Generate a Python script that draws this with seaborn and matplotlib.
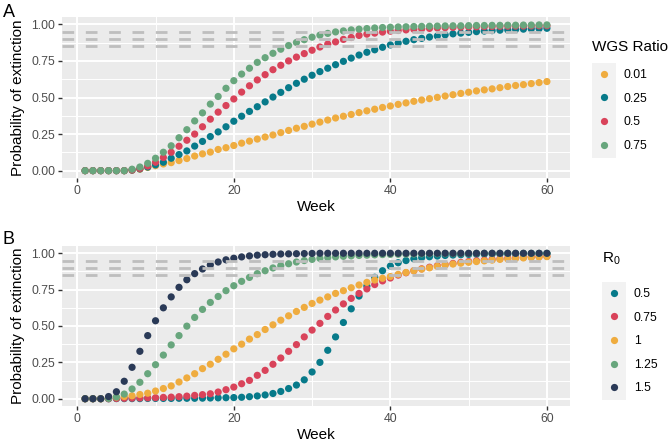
import matplotlib
matplotlib.use('Agg')
import matplotlib.pyplot as plt
import seaborn as sns
import pandas as pd
from matplotlib.patches import Rectangle
from matplotlib.ticker import MultipleLocator

plt.rcParams['font.family'] = ['Liberation Sans', 'DejaVu Sans']
plt.rcParams['mathtext.fontset'] = 'custom'
plt.rcParams['mathtext.rm'] = 'Liberation Sans'

weeks = list(range(1, 61))

# panel A: WGS ratio
wgs_labels = ['0.01', '0.25', '0.5', '0.75']
wgs_colors = ['#EFAC3F', '#077A8A', '#D9435A', '#68A67D']
wgs_001 = [0, 0, 0, 0, 0, 0, 0.003, 0.01, 0.022, 0.034,
           0.046, 0.055, 0.069, 0.083, 0.10, 0.115, 0.127, 0.145, 0.157, 0.172,
           0.188, 0.202, 0.216, 0.23, 0.244, 0.26, 0.275, 0.29, 0.303, 0.318,
           0.332, 0.346, 0.36, 0.372, 0.384, 0.397, 0.409, 0.42, 0.432, 0.442,
           0.453, 0.463, 0.474, 0.483, 0.492, 0.501, 0.51, 0.519, 0.528, 0.536,
           0.545, 0.552, 0.559, 0.567, 0.575, 0.582, 0.588, 0.595, 0.602, 0.609]
wgs_025 = [0, 0, 0, 0, 0, 0, 0.004, 0.012, 0.025, 0.04,
           0.058, 0.085, 0.11, 0.135, 0.168, 0.2, 0.233, 0.265, 0.3, 0.338,
           0.372, 0.405, 0.437, 0.47, 0.503, 0.535, 0.567, 0.597, 0.625, 0.652,
           0.677, 0.70, 0.724, 0.747, 0.769, 0.79, 0.809, 0.826, 0.843, 0.859,
           0.872, 0.884, 0.895, 0.904, 0.913, 0.92, 0.928, 0.935, 0.94, 0.945,
           0.95, 0.954, 0.957, 0.96, 0.962, 0.965, 0.967, 0.969, 0.971, 0.973]
wgs_05 = [0, 0, 0, 0, 0, 0, 0.005, 0.015, 0.032, 0.058,
          0.09, 0.126, 0.167, 0.208, 0.25, 0.3, 0.352, 0.4, 0.445, 0.49,
          0.537, 0.58, 0.62, 0.656, 0.69, 0.72, 0.75, 0.776, 0.80, 0.823,
          0.845, 0.865, 0.88, 0.897, 0.91, 0.924, 0.933, 0.94, 0.947, 0.953,
          0.958, 0.962, 0.966, 0.969, 0.972, 0.975, 0.977, 0.979, 0.981, 0.982,
          0.983, 0.984, 0.985, 0.986, 0.987, 0.988, 0.988, 0.989, 0.99, 0.99]
wgs_075 = [0, 0, 0, 0, 0, 0, 0.01, 0.025, 0.05, 0.085,
           0.126, 0.17, 0.225, 0.28, 0.34, 0.395, 0.455, 0.507, 0.563, 0.615,
           0.66, 0.70, 0.74, 0.772, 0.802, 0.83, 0.855, 0.876, 0.895, 0.912,
           0.926, 0.938, 0.948, 0.955, 0.962, 0.967, 0.971, 0.975, 0.978, 0.98,
           0.982, 0.983, 0.985, 0.986, 0.987, 0.988, 0.989, 0.99, 0.99, 0.991,
           0.992, 0.992, 0.993, 0.993, 0.994, 0.994, 0.995, 0.995, 0.996, 0.996]

# panel B: R0
r0_labels = ['0.5', '0.75', '1', '1.25', '1.5']
r0_colors = ['#077A8A', '#D9435A', '#EFAC3F', '#68A67D', '#2A3A57']
r0_05 = [0, 0, 0, 0, 0.001, 0.001, 0.001, 0.001, 0.002, 0.002,
         0.002, 0.002, 0.003, 0.003, 0.003, 0.004, 0.005, 0.006, 0.007, 0.008,
         0.01, 0.014, 0.019, 0.026, 0.036, 0.05, 0.07, 0.094, 0.13, 0.184,
         0.25, 0.333, 0.425, 0.524, 0.618, 0.706, 0.775, 0.835, 0.88, 0.912,
         0.935, 0.95, 0.962, 0.97, 0.976, 0.981, 0.985, 0.988, 0.99, 0.992,
         0.993, 0.994, 0.995, 0.995, 0.996, 0.996, 0.997, 0.997, 0.998, 0.998]
r0_075 = [0, 0, 0, 0, 0.002, 0.003, 0.004, 0.005, 0.006, 0.007,
          0.009, 0.011, 0.014, 0.018, 0.023, 0.028, 0.034, 0.046, 0.062, 0.08,
          0.103, 0.126, 0.161, 0.195, 0.237, 0.28, 0.326, 0.372, 0.425, 0.472,
          0.518, 0.566, 0.61, 0.652, 0.69, 0.724, 0.755, 0.785, 0.81, 0.83,
          0.85, 0.866, 0.88, 0.893, 0.904, 0.914, 0.922, 0.93, 0.937, 0.943,
          0.948, 0.953, 0.958, 0.962, 0.966, 0.969, 0.972, 0.975, 0.977, 0.979]
r0_1 = [0, 0, 0, 0.007, 0.011, 0.015, 0.02, 0.029, 0.038, 0.053,
        0.07, 0.088, 0.115, 0.143, 0.172, 0.207, 0.237, 0.271, 0.306, 0.343,
        0.375, 0.41, 0.441, 0.476, 0.508, 0.54, 0.57, 0.60, 0.628, 0.655,
        0.678, 0.70, 0.724, 0.743, 0.763, 0.782, 0.80, 0.816, 0.828, 0.84,
        0.855, 0.868, 0.88, 0.891, 0.90, 0.91, 0.919, 0.926, 0.932, 0.938,
        0.943, 0.948, 0.953, 0.958, 0.961, 0.965, 0.968, 0.971, 0.974, 0.977]
r0_125 = [0, 0, 0, 0.002, 0.012, 0.032, 0.067, 0.113, 0.172, 0.234,
          0.30, 0.37, 0.434, 0.499, 0.559, 0.614, 0.662, 0.703, 0.743, 0.777,
          0.807, 0.834, 0.86, 0.88, 0.899, 0.915, 0.928, 0.94, 0.95, 0.958,
          0.965, 0.97, 0.975, 0.979, 0.982, 0.985, 0.987, 0.989, 0.991, 0.992,
          0.993, 0.994, 0.995, 0.996, 0.997, 0.997, 0.998, 0.998, 0.998, 0.998,
          0.999, 0.999, 0.999, 0.999, 0.999, 0.999, 0.999, 0.999, 0.999, 0.999]
r0_15 = [0, 0, 0, 0.015, 0.048, 0.12, 0.216, 0.326, 0.434, 0.536,
         0.625, 0.70, 0.766, 0.818, 0.86, 0.892, 0.92, 0.94, 0.955, 0.966,
         0.975, 0.982, 0.987, 0.99, 0.993, 0.995, 0.996, 0.997, 0.998, 0.999,
         1, 1, 1, 1, 1, 1, 1, 1, 1, 1,
         1, 1, 1, 1, 1, 1, 1, 1, 1, 1,
         1, 1, 1, 1, 1, 1, 1, 1, 1, 1]

thresholds = [0.85, 0.90, 0.95]


def long_df(series, labels, key):
    rows = []
    for lab, vals in zip(labels, series):
        for w, v in zip(weeks, vals):
            rows.append((w, v, lab))
    return pd.DataFrame(rows, columns=['Week', 'prob', key])


dfA = long_df([wgs_001, wgs_025, wgs_05, wgs_075], wgs_labels, 'WGS Ratio')
dfB = long_df([r0_05, r0_075, r0_1, r0_125, r0_15], r0_labels, 'R0')

W, H = 668, 442
fig = plt.figure(figsize=(W / 100, H / 100), dpi=100)
axA = fig.add_axes([62 / W, 1 - 178 / H, 508 / W, 161 / H])
axB = fig.add_axes([62 / W, 1 - 406 / H, 508 / W, 160 / H])


def style(ax):
    ax.set_facecolor('#EBEBEB')
    for s in ax.spines.values():
        s.set_visible(False)
    ax.set_xlim(-1.95, 62.95)
    ax.set_ylim(-0.05, 1.05)
    ax.xaxis.set_major_locator(MultipleLocator(20))
    ax.xaxis.set_minor_locator(MultipleLocator(10))
    ax.yaxis.set_major_locator(MultipleLocator(0.25))
    ax.yaxis.set_minor_locator(MultipleLocator(0.125))
    ax.yaxis.set_major_formatter(lambda v, p: f'{v:.2f}')
    ax.grid(which='major', color='white', lw=1.4)
    ax.grid(which='minor', color='white', lw=0.7)
    ax.set_axisbelow(True)
    ax.tick_params(which='major', length=3, width=1, color='#333333',
                   labelsize=8.8, labelcolor='#4D4D4D', pad=2)
    ax.tick_params(which='minor', length=0)
    for y in thresholds:
        ax.axhline(y, color='#BEBEBE', lw=2, dashes=(4.2, 4.2), zorder=3)
    ax.set_xlabel('Week', fontsize=11, labelpad=2)
    ax.set_ylabel('Probability of extinction', fontsize=11, labelpad=4)


sns.scatterplot(data=dfA, x='Week', y='prob', hue='WGS Ratio',
                hue_order=wgs_labels, palette=wgs_colors, s=27,
                linewidth=0, ax=axA)
sns.scatterplot(data=dfB, x='Week', y='prob', hue='R0',
                hue_order=r0_labels, palette=r0_colors, s=27,
                linewidth=0, ax=axB)
style(axA)
style(axB)

leg_kw = dict(loc='upper left', bbox_transform=fig.transFigure, frameon=False,
              fontsize=8.8, title_fontsize=11, borderpad=0, borderaxespad=0,
              handlelength=2.0, handletextpad=0.6, labelspacing=0.95,
              markerscale=1.0, alignment='left')
sns.move_legend(axA, bbox_to_anchor=(592 / W, 1 - 40 / H), title='WGS Ratio', **leg_kw)
sns.move_legend(axB, bbox_to_anchor=(602 / W, 1 - 251 / H),
                title=r'$\mathregular{R_0}$', **leg_kw)
# extra gap between legend title and keys (points)
axA.get_legend()._legend_box.sep = 0.95 * 8.8 + 2.5
axB.get_legend()._legend_box.sep = 0.95 * 8.8 + 6.5

# grey key background like ggplot, drawn behind the legend markers
fig.canvas.draw()
r = fig.canvas.get_renderer()
for ax in (axA, axB):
    leg = ax.get_legend()
    texts = [t.get_window_extent(r) for t in leg.get_texts()]
    lb = leg.get_window_extent(r)
    kw = 2.0 * 8.8 * 100 / 72
    top = (texts[0].y0 + texts[0].y1) / 2 + 12
    bot = (texts[-1].y0 + texts[-1].y1) / 2 - 12
    fig.patches.append(Rectangle((lb.x0 / W, bot / H), kw / W, (top - bot) / H,
                                 transform=fig.transFigure, facecolor='#F2F2F2',
                                 edgecolor='none', zorder=-1))

fig.text(3 / W, 1 - 4 / H, 'A', fontsize=13, va='top', ha='left')
fig.text(3 / W, 1 - 231 / H, 'B', fontsize=13, va='top', ha='left')

fig.savefig('out.png', dpi=100)
